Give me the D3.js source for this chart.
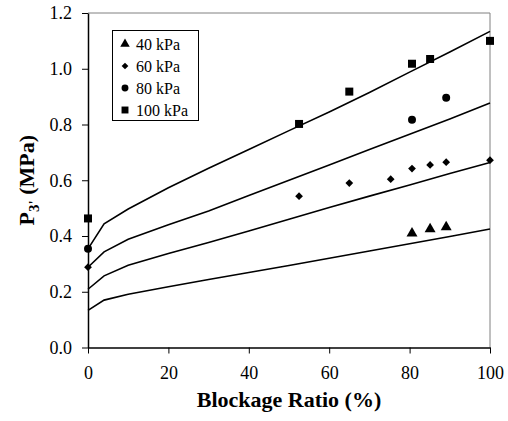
<!DOCTYPE html>
<html><head><meta charset="utf-8">
<script src="https://cdn.jsdelivr.net/npm/d3@7"></script>
<style>
html,body{margin:0;padding:0;background:#fff;}
svg{display:block;font-family:"Liberation Serif","Times New Roman",serif;}
</style></head>
<body><svg id="c" width="508" height="421"></svg>
<script>
// ---- data ----
const seriesNames = ["40 kPa", "60 kPa", "80 kPa", "100 kPa"];
const pts40 = [[80.6, 0.41], [85.1, 0.425], [89.1, 0.432]];
const pts60 = [[0, 0.288], [52.5, 0.543], [65, 0.590], [75.3, 0.604], [80.6, 0.642], [85.1, 0.655], [89.1, 0.665], [100, 0.672]];
const pts80 = [[0, 0.354], [80.6, 0.817], [89.1, 0.896]];
const pts100 = [[0, 0.463], [52.5, 0.802], [65, 0.918], [80.6, 1.018], [85.1, 1.035], [100, 1.10]];
const lineX = [0, 4, 10, 20, 30, 40, 50, 60, 70, 80, 90, 100];
const line40 = [0.133, 0.170, 0.191, 0.218, 0.244, 0.269, 0.294, 0.320, 0.346, 0.372, 0.398, 0.425];
const line60 = [0.209, 0.257, 0.295, 0.337, 0.377, 0.418, 0.460, 0.502, 0.543, 0.583, 0.624, 0.664];
const line80 = [0.288, 0.343, 0.388, 0.440, 0.490, 0.545, 0.600, 0.655, 0.710, 0.765, 0.820, 0.877];
const line100 = [0.354, 0.444, 0.497, 0.573, 0.643, 0.710, 0.778, 0.845, 0.915, 0.988, 1.060, 1.134];
const xTicks = [0, 20, 40, 60, 80, 100];
const yTicks = [0, 0.2, 0.4, 0.6, 0.8, 1.0, 1.2];

// ---- layout ----
const svg = d3.select("#c");
const L = 88, R = 490, T = 13, B = 347.5;
const x = d3.scaleLinear().domain([0, 100]).range([L, R]);
const y = d3.scaleLinear().domain([0, 1.2]).range([B, T]);

// frame (top and right, grey)
svg.append("line").attr("x1", L).attr("x2", R).attr("y1", T).attr("y2", T).attr("stroke", "#808080").attr("stroke-width", 1);
svg.append("line").attr("x1", R).attr("x2", R).attr("y1", T).attr("y2", B).attr("stroke", "#808080").attr("stroke-width", 1);

// axes
const xa = svg.append("g").attr("transform", `translate(0,${B})`)
  .call(d3.axisBottom(x).tickValues(xTicks).tickFormat(d3.format("d")).tickSizeInner(6).tickSizeOuter(0).tickPadding(13));
const ya = svg.append("g").attr("transform", `translate(${L},0)`)
  .call(d3.axisLeft(y).tickValues(yTicks).tickFormat(d3.format(".1f")).tickSizeInner(6).tickSizeOuter(0).tickPadding(10));
[xa, ya].forEach(g => {
  g.select(".domain").attr("stroke", "#000").attr("stroke-width", 1.5);
  g.selectAll(".tick line").attr("stroke", "#000").attr("stroke-width", 1);
  g.selectAll(".tick text").attr("font-size", 18).attr("fill", "#000")
    .attr("font-family", "Liberation Serif, Times New Roman, serif");
});

// model lines
const lineGen = d3.line().x((d, i) => x(lineX[i])).y(d => y(d));
[line40, line60, line80, line100].forEach(arr => {
  svg.append("path").attr("d", lineGen(arr)).attr("fill", "none").attr("stroke", "#000").attr("stroke-width", 1.6);
});

// markers
const sym = [d3.symbolTriangle, d3.symbolSquare, d3.symbolCircle, d3.symbolSquare];
const rot = [0, 45, 0, 0];
const sizes = [52, 30, 50, 64];
const allPts = [pts40, pts60, pts80, pts100];
allPts.forEach((pts, k) => {
  const g = d3.symbol().type(sym[k]).size(sizes[k]);
  svg.append("g").selectAll("path").data(pts).join("path")
    .attr("transform", d => `translate(${x(d[0])},${y(d[1])}) rotate(${rot[k]})`)
    .attr("d", g).attr("fill", "#000");
});

// legend
const lg = svg.append("g");
lg.append("rect").attr("x", 112.5).attr("y", 30.5).attr("width", 86).attr("height", 90)
  .attr("fill", "#fff").attr("stroke", "#000").attr("stroke-width", 1);
seriesNames.forEach((name, k) => {
  const cy = 44 + k * 22;
  lg.append("path").attr("transform", `translate(125,${cy}) rotate(${rot[k]})`)
    .attr("d", d3.symbol().type(sym[k]).size(sizes[k] * 0.75)()).attr("fill", "#000");
  lg.append("text").attr("x", 136).attr("y", cy + 5.5).attr("font-size", 16).text(name);
});

// axis titles
svg.append("text").attr("x", (L + R) / 2).attr("y", 407).attr("text-anchor", "middle")
  .attr("font-size", 22).attr("font-weight", "bold").text("Blockage Ratio (%)");
const yt = svg.append("text").attr("transform", `translate(34,${(T + B) / 2}) rotate(-90)`)
  .attr("text-anchor", "middle").attr("font-size", 22).attr("font-weight", "bold");
yt.append("tspan").text("P");
yt.append("tspan").attr("font-size", 15).attr("dy", 5).text("3'");
yt.append("tspan").attr("dy", -5).text(" (MPa)");
</script></body></html>
